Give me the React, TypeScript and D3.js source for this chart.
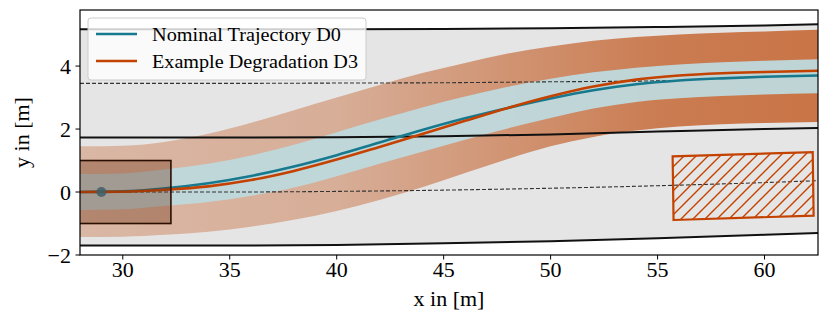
import * as d3 from "d3";

// road geometry, sampled along x
const roadX = [28, 35, 40, 45, 50, 55, 60, 62.5];
const roadTop = [5.17, 5.17, 5.17, 5.18, 5.2, 5.24, 5.29, 5.33];
const roadMiddle = [1.73, 1.73, 1.74, 1.77, 1.83, 1.92, 2.0, 2.03];
const roadBottom = [-1.7, -1.7, -1.68, -1.63, -1.56, -1.47, -1.36, -1.3];
const lowerDashed = [0, 0, 0.02, 0.06, 0.12, 0.2, 0.3, 0.36];
const upperDashedX = [28, 35, 40, 45, 50, 55, 55.7];
const upperDashed = [3.45, 3.45, 3.46, 3.47, 3.5, 3.53, 3.54];

// trajectories and their bands
const trajX = [28, 30, 32, 34, 36, 38, 40, 42, 44, 46, 48, 50, 52, 54, 56, 58, 60, 62.5];
const nominal = [0, 0.02, 0.12, 0.28, 0.51, 0.81, 1.17, 1.57, 1.97, 2.34, 2.67, 2.97, 3.23, 3.42, 3.54, 3.61, 3.66, 3.7];
const degraded = [0, 0.01, 0.07, 0.18, 0.38, 0.67, 1.03, 1.43, 1.84, 2.26, 2.67, 3.04, 3.35, 3.57, 3.7, 3.77, 3.81, 3.85];
const nominalUpper = [0.57, 0.59, 0.72, 0.9, 1.16, 1.5, 1.9, 2.3, 2.68, 3.03, 3.34, 3.6, 3.8, 3.95, 4.05, 4.12, 4.17, 4.22];
const nominalLower = [-0.57, -0.55, -0.44, -0.32, -0.12, 0.14, 0.5, 0.9, 1.28, 1.66, 2.02, 2.35, 2.65, 2.86, 2.98, 3.05, 3.1, 3.14];
const degradedUpper = [1.45, 1.47, 1.6, 1.85, 2.2, 2.6, 3.0, 3.4, 3.78, 4.1, 4.4, 4.62, 4.8, 4.92, 5.0, 5.06, 5.1, 5.15];
const degradedLower = [-1.43, -1.42, -1.36, -1.26, -1.1, -0.88, -0.6, -0.25, 0.15, 0.6, 1.05, 1.45, 1.75, 1.95, 2.08, 2.15, 2.19, 2.22];

// band fades in along x
const fadeX = [28, 40, 48, 55, 62.5];
const fadeOpacity = [0.35, 0.42, 0.62, 0.8, 0.86];

// ego vehicle and obstacle
const ego = { x0: 26.5, x1: 32.25, y0: -1, y1: 1, cx: 29, cy: 0 };
const obstacle = { x: 59.0, y: 0.19, length: 6.55, width: 2.02, heading: 0.021 };

const xTicks = [30, 35, 40, 45, 50, 55, 60];
const yTicks = [-2, 0, 2, 4];
const legendLabels = ["Nominal Trajectory D0", "Example Degradation D3"];
const legendWidths = [189, 206];

const W = 830;
const H = 327;
const margin = { top: 10, right: 12, bottom: 72, left: 80 };
const teal = "#17798e";
const orange = "#c44200";
const font = "'Liberation Serif', 'DejaVu Serif', serif";

export default function App() {
  const x = d3.scaleLinear().domain([28, 62.5]).range([margin.left, W - margin.right]);
  const y = d3.scaleLinear().domain([-2, 5.78]).range([H - margin.bottom, margin.top]);

  const pts = (xs: number[], ys: number[]) => xs.map((v, i) => [v, ys[i]] as [number, number]);
  const line = d3
    .line<[number, number]>()
    .x((d) => x(d[0]))
    .y((d) => y(d[1]))
    .curve(d3.curveMonotoneX);
  const area = (xs: number[], lo: number[], hi: number[]) =>
    d3
      .area<number>()
      .x((d) => x(xs[d]))
      .y0((d) => y(lo[d]))
      .y1((d) => y(hi[d]))
      .curve(d3.curveMonotoneX)(xs.map((_, i) => i)) || "";

  // obstacle corners
  const c = Math.cos(obstacle.heading);
  const s = Math.sin(obstacle.heading);
  const hl = obstacle.length / 2;
  const hw = obstacle.width / 2;
  const corners = [
    [-hl, -hw],
    [hl, -hw],
    [hl, hw],
    [-hl, hw],
  ].map(([a, b]) => [x(obstacle.x + a * c - b * s), y(obstacle.y + a * s + b * c)]);
  const obsPath = "M" + corners.map((p) => p.join(",")).join("L") + "Z";

  const x0 = x.range()[0];
  const x1 = x.range()[1];
  const yTop = y.range()[1];
  const yBot = y.range()[0];

  return (
    <svg
      width={W}
      height={H}
      style={{ position: "absolute", left: 0, top: 0, background: "white" }}
      fontFamily={font}
    >
      <defs>
        <clipPath id="plot">
          <rect x={x0} y={yTop} width={x1 - x0} height={yBot - yTop} />
        </clipPath>
        <linearGradient id="fade" gradientUnits="userSpaceOnUse" x1={x0} x2={x1} y1={0} y2={0}>
          {fadeX.map((v, i) => (
            <stop
              key={i}
              offset={(x(v) - x0) / (x1 - x0)}
              stopColor="#c4622d"
              stopOpacity={fadeOpacity[i]}
            />
          ))}
        </linearGradient>
        <pattern id="hatch" patternUnits="userSpaceOnUse" width={12} height={12}>
          <path d="M-3,3 l6,-6 M0,12 l12,-12 M9,15 l6,-6" stroke={orange} strokeWidth={1.4} />
        </pattern>
      </defs>

      <g clipPath="url(#plot)">
        <path d={area(roadX, roadBottom, roadTop)} fill="#e5e5e5" />
        <path d={area(trajX, degradedLower, degradedUpper)} fill="url(#fade)" />
        <path d={area(trajX, nominalLower, nominalUpper)} fill="#bfd9dd" opacity={0.95} />

        <path d={line(pts(roadX, lowerDashed)) || ""} fill="none" stroke="#333" strokeWidth={1.1} strokeDasharray="4,2" />
        <path d={line(pts(upperDashedX, upperDashed)) || ""} fill="none" stroke="#333" strokeWidth={1.1} strokeDasharray="4,2" />
        {[roadTop, roadMiddle, roadBottom].map((ys, i) => (
          <path key={i} d={line(pts(roadX, ys)) || ""} fill="none" stroke="#111" strokeWidth={2} />
        ))}

        <path d={line(pts(trajX, nominal)) || ""} fill="none" stroke={teal} strokeWidth={2.6} />
        <path d={line(pts(trajX, degraded)) || ""} fill="none" stroke={orange} strokeWidth={2.6} />

        <rect
          x={x(ego.x0)}
          y={y(ego.y1)}
          width={x(ego.x1) - x(ego.x0)}
          height={y(ego.y0) - y(ego.y1)}
          fill="#6b2c0f"
          fillOpacity={0.35}
          stroke="#2a0e00"
          strokeWidth={1.6}
        />
        <circle cx={x(ego.cx)} cy={y(ego.cy)} r={5} fill="#3f5f68" opacity={0.85} />

        <path d={obsPath} fill="url(#hatch)" stroke="none" />
        <path d={obsPath} fill="none" stroke={orange} strokeWidth={2.2} />
      </g>

      {/* frame */}
      <rect x={x0} y={yTop} width={x1 - x0} height={yBot - yTop} fill="none" stroke="#000" strokeWidth={1.2} />

      {/* ticks */}
      {xTicks.map((t) => (
        <g key={t}>
          <line x1={x(t)} x2={x(t)} y1={yBot} y2={yBot + 4.5} stroke="#000" strokeWidth={1} />
          <text x={x(t)} y={yBot + 22} textAnchor="middle" fontSize={22}>
            {t}
          </text>
        </g>
      ))}
      {yTicks.map((t) => (
        <g key={t}>
          <line x1={x0} x2={x0 - 4.5} y1={y(t)} y2={y(t)} stroke="#000" strokeWidth={1} />
          <text x={x0 - 9} y={y(t) + 7.5} textAnchor="end" fontSize={22}>
            {t < 0 ? "\u2212" + Math.abs(t) : t}
          </text>
        </g>
      ))}

      <text x={(x0 + x1) / 2} y={H - 21} textAnchor="middle" fontSize={22}>
        x in [m]
      </text>
      <text
        transform={`translate(${29},${(yTop + yBot) / 2}) rotate(-90)`}
        textAnchor="middle"
        fontSize={22}
      >
        y in [m]
      </text>

      {/* legend */}
      <g>
        <rect x={88} y={18} width={278} height={62} rx={3} fill="#fff" fillOpacity={0.8} stroke="#ccc" strokeWidth={1} />
        {legendLabels.map((lab, i) => (
          <g key={lab} transform={`translate(0,${34 + i * 27})`}>
            <line x1={96} x2={137} y1={0} y2={0} stroke={i === 0 ? teal : orange} strokeWidth={2.6} />
            <text x={152} y={6.5} fontSize={19.5} textLength={legendWidths[i]} lengthAdjust="spacingAndGlyphs">
              {lab}
            </text>
          </g>
        ))}
      </g>
    </svg>
  );
}
